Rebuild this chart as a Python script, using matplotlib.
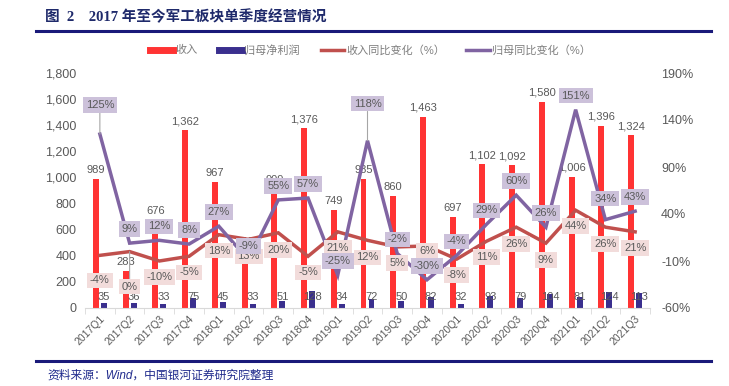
import matplotlib
matplotlib.use("Agg")
import matplotlib.pyplot as plt
from matplotlib.lines import Line2D
import numpy as np

plt.rcParams['font.family'] = ['Liberation Sans', 'Noto Sans CJK SC', 'DejaVu Sans']

quarters = ["2017Q1", "2017Q2", "2017Q3", "2017Q4", "2018Q1", "2018Q2", "2018Q3", "2018Q4",
            "2019Q1", "2019Q2", "2019Q3", "2019Q4", "2020Q1", "2020Q2", "2020Q3", "2020Q4",
            "2021Q1", "2021Q2", "2021Q3"]
revenue = [989, 283, 676, 1362, 967, 440, 909, 1376, 749, 985, 860, 1463, 697, 1102, 1092, 1580, 1006, 1396, 1324]
net_profit = [35, 36, 33, 75, 45, 33, 51, 128, 34, 72, 50, 82, 32, 93, 79, 104, 81, 124, 113]
revenue_yoy = [-4, 0, -10, -5, 18, 13, 20, -5, 21, 12, 5, 6, -8, 11, 26, 9, 44, 26, 21]
profit_yoy = [125, 9, 12, 8, 27, -9, 55, 57, -25, 118, -2, -30, -4, 29, 60, 26, 151, 34, 43]
left_ticks = [0, 200, 400, 600, 800, 1000, 1200, 1400, 1600, 1800]
right_ticks = [-60, -10, 40, 90, 140, 190]

# label placement (pixels) - style only
profit_yoy_off = [29, 14, 14, 14, 14, 14, 14, 14, 14, 37, 14, 14, 14, 14, 14, 14, 14, 21, 14]
revenue_yoy_off = [-25, -35, -16, -16, -16, -17, -17, -16, -16, -17, -16, -5, -16, -16, -17, -17, -16, -17, -16]

RED = "#ff3333"
NAVY = "#3a2f8e"
LRED = "#c0504d"
PURPLE = "#8064a2"
GRAY = "#595959"

fig = plt.figure(figsize=(7.29, 3.86), dpi=100)
W, H = 729, 386
ax = fig.add_axes([85 / W, (H - 308) / H, (650 - 85) / W, (308 - 73) / H])
x = np.arange(len(quarters))
bw = 0.2
ax.bar(x - 0.135, revenue, bw, color=RED, zorder=2)
ax.bar(x + 0.135, net_profit, bw, color=NAVY, zorder=2)
ax.set_xlim(-0.5, len(quarters) - 0.5)
ax.set_ylim(0, 1800)
ax.set_yticks(left_ticks)
ax.set_yticklabels([f"{v:,}" for v in left_ticks], color=GRAY, fontsize=9)
ax.set_xticks(x)
ax.set_xticklabels(quarters, rotation=45, ha='right', rotation_mode='anchor', color=GRAY, fontsize=7.5)
ax.tick_params(axis='x', which='major', length=0, pad=4)
ax.set_xticks(np.arange(-0.5, len(quarters), 1), minor=True)
ax.tick_params(axis='x', which='minor', length=4, color="#d9d9d9", direction='out')
ax.tick_params(axis='y', length=0, pad=6)
for s in ['left', 'right', 'top']:
    ax.spines[s].set_visible(False)
ax.spines['bottom'].set_color("#d9d9d9")

for i, v in enumerate(revenue):
    ax.annotate(f"{v:,}", (x[i] - 0.135, v), xytext=(0, 4), textcoords='offset pixels',
                ha='center', va='bottom', fontsize=8, color=GRAY, zorder=3)
for i, v in enumerate(net_profit):
    ax.annotate(f"{v}", (x[i] + 0.135, 0), xytext=(0, 11), textcoords='offset pixels',
                ha='center', va='center', fontsize=8, color=GRAY, zorder=3)

ax2 = ax.twinx()
ax2.set_ylim(-60, 190)
ax2.set_yticks(right_ticks)
ax2.set_yticklabels([f"{v}%" for v in right_ticks], color=GRAY, fontsize=9)
ax2.tick_params(axis='y', length=0, pad=8)
for s in ['left', 'right', 'top', 'bottom']:
    ax2.spines[s].set_visible(False)
ax2.plot(x, revenue_yoy, color=LRED, lw=2.5, solid_joinstyle='miter', zorder=2)
ax2.plot(x, profit_yoy, color=PURPLE, lw=2.5, solid_joinstyle='miter', zorder=2)

for i, v in enumerate(revenue_yoy):
    off = revenue_yoy_off[i]
    arrow = dict(arrowstyle='-', color="#a6a6a6", lw=0.8, shrinkA=0, shrinkB=0) if off < -30 else None
    ax2.annotate(f"{v}%", (x[i], v), xytext=(0, off), textcoords='offset pixels',
                 ha='center', va='center', fontsize=8, color=GRAY, zorder=5,
                 bbox=dict(boxstyle='square,pad=0.25', fc="#f2dcdb", ec='none'),
                 arrowprops=arrow)
for i, v in enumerate(profit_yoy):
    off = profit_yoy_off[i]
    arrow = dict(arrowstyle='-', color="#a6a6a6", lw=0.8, shrinkA=0, shrinkB=0) if off > 25 else None
    ax2.annotate(f"{v}%", (x[i], v), xytext=(0, off), textcoords='offset pixels',
                 ha='center', va='center', fontsize=8, color=GRAY, zorder=6,
                 bbox=dict(boxstyle='square,pad=0.25', fc="#ccc1da", ec='none'),
                 arrowprops=arrow)

handles = [Line2D([], [], color=RED, lw=5), Line2D([], [], color=NAVY, lw=5),
           Line2D([], [], color=LRED, lw=2.5), Line2D([], [], color=PURPLE, lw=2.5)]
labels = ["收入", "归母净利润", "收入同比变化（%）", "归母同比变化（%）"]
fig.legend(handles, labels, loc='center', bbox_to_anchor=(0.508, 1 - 50 / H), ncol=4, frameon=False,
           fontsize=8, labelcolor="#7f7f7f", handlelength=2.1, columnspacing=1.9, handletextpad=0.2)

fig.text(45 / W, 1 - 17 / H, "图  2    2017 年至今军工板块单季度经营情况", fontsize=10.5, fontweight='bold',
         color="#1f2a6b", va='center', ha='left',
         family=['Liberation Serif', 'Noto Sans CJK SC'])
fig.add_artist(Line2D([36 / W, 711 / W], [1 - 31 / H, 1 - 31 / H], color="#1a1a7a", lw=2.2))
fig.add_artist(Line2D([36 / W, 711 / W], [1 - 361 / H, 1 - 361 / H], color="#1a1a7a", lw=2.2))
fig.text(47 / W, 1 - 376 / H, "资料来源：Wind，中国银河证券研究院整理", fontsize=8.5, style='italic',
         color="#1f2a8c", va='center', ha='left')

fig.savefig("out.png", dpi=100)
